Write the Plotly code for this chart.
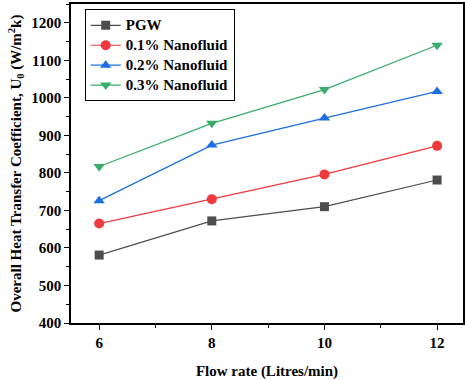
import plotly.graph_objects as go

flow = [6, 8, 10, 12]
pgw = [581, 672, 710, 781]
nf01 = [665, 730, 796, 872]
nf02 = [726, 874, 946, 1017]
nf03 = [817, 932, 1022, 1140]

names = ["PGW", "0.1% Nanofluid", "0.2% Nanofluid", "0.3% Nanofluid"]
series = [pgw, nf01, nf02, nf03]
colors = ["#4d4d4d", "#f0393c", "#1b6fe0", "#37ad6b"]
symbols = ["square", "circle", "triangle-up", "triangle-down"]

font = "Liberation Serif, Times New Roman, serif"
fig = go.Figure()
for n, s, c, m in zip(names, series, colors, symbols):
    fig.add_trace(go.Scatter(
        x=flow, y=s, name='<span style="font-size:15px">' + n + "</span>", mode="lines+markers",
        line=dict(color=c, width=1.2),
        marker=dict(symbol=m, size=10 if m != "square" else 9, color=c),
    ))

axis_common = dict(
    showline=True, linecolor="black", linewidth=1.5, mirror=True,
    ticks="outside", ticklen=5, tickwidth=1.2, tickcolor="black",
    showgrid=False, zeroline=False,
    tickfont=dict(family=font, size=15, color="black", weight="bold"),
)
fig.update_layout(
    width=465, height=380,
    margin=dict(l=71, r=0, t=4, b=57),
    plot_bgcolor="white", paper_bgcolor="white",
    font=dict(family=font, color="black"),
    xaxis=dict(range=[5.5, 12.46], tickvals=[6, 8, 10, 12],
               minor=dict(tickvals=[7, 9, 11], ticks="outside", ticklen=3, tickcolor="black"),
               title=dict(text="<b>Flow rate (Litres/min)</b>", font=dict(family=font, size=15), standoff=16),
               **axis_common),
    yaxis=dict(range=[400, 1250], tickvals=[400, 500, 600, 700, 800, 900, 1000, 1100, 1200],
               minor=dict(dtick=50, ticks="outside", ticklen=3, tickcolor="black"),
               title=dict(text="<b>Overall Heat Transfer Coefficient, U<sub>0</sub> (W/m<sup>2</sup>k)</b>",
                          font=dict(family=font, size=15), standoff=6),
               **axis_common),
    legend=dict(x=0.035, y=0.983, xanchor="left", yanchor="top",
                bordercolor="black", borderwidth=1, bgcolor="white",
                font=dict(family=font, size=13, color="black", weight="bold"),
                tracegroupgap=0, itemwidth=30),
)
fig.write_html("out.html", config={"displayModeBar": False},
               post_script="document.body.style.margin='0';window.dispatchEvent(new Event('resize'));")
